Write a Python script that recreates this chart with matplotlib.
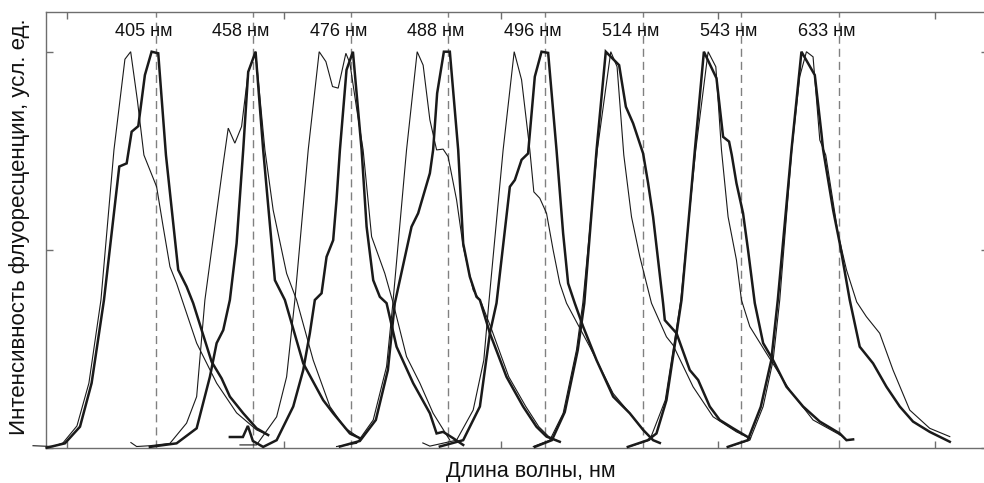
import matplotlib
matplotlib.use("Agg")
import matplotlib.pyplot as plt

plt.rcParams['font.family'] = ['Liberation Sans', 'DejaVu Sans']

# Excitation laser lines (label text and channel position)
laser_labels = ["405 нм", "458 нм", "476 нм", "488 нм", "496 нм", "514 нм", "543 нм", "633 нм"]
laser_pos = [8.23, 17.16, 26.19, 35.15, 44.09, 53.12, 62.18, 71.17]

# Emission spectra: thin line and thick line for each laser line
thin_405_x = [-3.1, -1.26, -0.34, 0.95, 2.05, 3.16, 4.36, 5.37, 5.9, 6.52, 7.12, 8.29, 8.87, 9.52, 10.13, 10.74, 11.98, 13.82, 15.66, 17.5, 18.54]
thin_405_y = [0.005, 0.003, 0.012, 0.055, 0.163, 0.373, 0.752, 0.981, 1.0, 0.877, 0.739, 0.659, 0.562, 0.457, 0.415, 0.365, 0.264, 0.163, 0.088, 0.045, 0.032]
thick_405_x = [-1.84, -0.16, 1.23, 2.3, 3.44, 4.85, 5.53, 5.99, 6.6, 7.21, 7.83, 8.44, 9.15, 10.28, 11.05, 11.66, 13.36, 14.28, 15.04, 16.27, 17.5, 18.57]
thick_405_y = [0.0, 0.011, 0.053, 0.163, 0.373, 0.71, 0.718, 0.798, 0.812, 0.941, 1.0, 0.996, 0.739, 0.449, 0.407, 0.365, 0.217, 0.175, 0.129, 0.087, 0.049, 0.032]

thin_458_x = [5.92, 6.45, 7.67, 9.52, 11.05, 11.98, 12.74, 14.43, 14.89, 15.5, 16.12, 16.73, 17.41, 18.27, 19.03, 20.27, 21.19, 22.72, 24.26, 25.64, 27.02]
thin_458_y = [0.013, 0.003, 0.005, 0.011, 0.062, 0.129, 0.373, 0.718, 0.807, 0.769, 0.811, 0.949, 1.0, 0.752, 0.6, 0.44, 0.373, 0.221, 0.104, 0.05, 0.024]
thick_458_x = [7.67, 10.13, 11.98, 13.2, 13.82, 14.43, 15.04, 15.66, 16.27, 16.73, 17.41, 18.11, 19.19, 20.11, 21.8, 23.64, 24.56, 26.1, 27.02]
thick_458_y = [0.002, 0.011, 0.049, 0.179, 0.264, 0.297, 0.373, 0.516, 0.752, 0.949, 1.0, 0.752, 0.423, 0.373, 0.213, 0.12, 0.087, 0.036, 0.024]

thin_476_x = [15.97, 17.5, 19.35, 20.27, 21.03, 22.26, 23.27, 23.89, 24.5, 25.02, 25.73, 26.1, 26.74, 27.32, 28.1, 29.32, 30.09, 31.32, 32.55, 33.77, 35.31]
thin_476_y = [0.007, 0.007, 0.078, 0.179, 0.373, 0.752, 1.0, 0.975, 0.912, 0.908, 0.996, 0.971, 0.853, 0.752, 0.533, 0.44, 0.365, 0.23, 0.163, 0.087, 0.019]
thick_476_x = [15.04, 16.24, 16.7, 17.16, 18.11, 19.35, 20.88, 21.8, 22.41, 22.87, 23.49, 23.95, 24.56, 24.87, 25.18, 25.79, 26.38, 27.18, 27.64, 28.25, 28.86, 29.48, 30.4, 31.93, 33.47, 34.09, 34.69, 35.62, 36.54]
thick_476_y = [0.027, 0.027, 0.055, 0.017, 0.002, 0.019, 0.104, 0.196, 0.289, 0.373, 0.39, 0.482, 0.524, 0.626, 0.752, 0.954, 1.0, 0.752, 0.558, 0.423, 0.381, 0.365, 0.255, 0.163, 0.087, 0.036, 0.04, 0.024, 0.007]

thin_488_x = [24.87, 26.72, 28.25, 29.48, 30.06, 31.32, 32.3, 32.85, 33.47, 34.09, 34.69, 35.15, 35.93, 36.54, 37.46, 38.23, 39.18, 40.74, 42.31, 43.51, 44.43, 45.44]
thin_488_y = [0.003, 0.011, 0.07, 0.205, 0.365, 0.752, 1.0, 0.966, 0.828, 0.752, 0.754, 0.735, 0.626, 0.508, 0.398, 0.365, 0.297, 0.179, 0.104, 0.053, 0.028, 0.015]
thick_488_x = [25.18, 27.02, 28.49, 29.6, 30.24, 31.78, 32.39, 33.47, 33.77, 34.14, 34.76, 35.31, 36.08, 36.54, 37.15, 37.77, 38.08, 39.0, 40.53, 42.06, 43.29, 44.22, 45.44]
thick_488_y = [0.003, 0.017, 0.07, 0.196, 0.365, 0.558, 0.592, 0.693, 0.752, 0.895, 1.0, 1.0, 0.752, 0.516, 0.432, 0.381, 0.373, 0.289, 0.179, 0.104, 0.053, 0.028, 0.015]

thin_496_x = [32.82, 33.47, 35.93, 37.46, 38.44, 38.9, 40.22, 41.24, 41.92, 42.68, 43.05, 43.6, 44.22, 44.83, 45.44, 46.06, 48.2, 50.36, 51.89, 53.12, 54.04]
thin_496_y = [0.012, 0.004, 0.019, 0.095, 0.221, 0.365, 0.752, 1.0, 0.929, 0.752, 0.646, 0.63, 0.592, 0.499, 0.415, 0.365, 0.255, 0.137, 0.087, 0.045, 0.019]
thick_496_x = [34.39, 36.54, 38.08, 39.0, 39.61, 40.84, 41.3, 41.92, 42.52, 43.14, 43.76, 44.37, 45.14, 45.75, 46.21, 46.82, 47.59, 48.83, 50.36, 51.89, 53.12, 54.04, 54.66]
thick_496_y = [0.003, 0.019, 0.104, 0.289, 0.365, 0.659, 0.676, 0.727, 0.743, 0.937, 1.0, 0.997, 0.752, 0.541, 0.415, 0.365, 0.306, 0.221, 0.129, 0.087, 0.045, 0.019, 0.012]

thin_514_x = [43.0, 44.52, 45.75, 46.98, 47.56, 48.9, 50.14, 50.72, 51.34, 52.05, 52.82, 53.89, 55.27, 55.88, 57.72, 59.57, 61.72, 62.64]
thin_514_y = [0.003, 0.019, 0.087, 0.247, 0.365, 0.752, 1.0, 0.962, 0.739, 0.583, 0.482, 0.365, 0.28, 0.259, 0.154, 0.078, 0.04, 0.028]
thick_514_x = [43.14, 44.71, 45.9, 47.1, 47.7, 48.83, 49.68, 50.91, 51.53, 52.2, 53.12, 53.58, 54.04, 54.5, 54.96, 55.12, 56.2, 57.42, 58.19, 59.26, 60.18, 61.41, 62.94]
thick_514_y = [0.002, 0.019, 0.09, 0.247, 0.365, 0.752, 1.0, 0.966, 0.861, 0.819, 0.743, 0.668, 0.583, 0.474, 0.365, 0.322, 0.289, 0.196, 0.171, 0.104, 0.07, 0.049, 0.024]

thin_543_x = [51.89, 53.73, 55.16, 56.13, 56.59, 57.97, 59.11, 59.82, 60.34, 60.95, 61.72, 62.18, 62.95, 64.49, 66.63, 68.78, 71.54]
thin_543_y = [0.003, 0.019, 0.12, 0.29, 0.373, 0.752, 1.0, 0.962, 0.752, 0.583, 0.474, 0.373, 0.306, 0.238, 0.145, 0.07, 0.028]
thick_543_x = [51.71, 53.55, 54.35, 55.27, 56.2, 56.66, 57.89, 58.72, 59.88, 60.49, 61.04, 61.29, 61.72, 62.33, 62.79, 63.41, 64.18, 65.1, 66.33, 67.86, 69.4, 71.24, 71.86, 72.47]
thick_543_y = [0.002, 0.019, 0.036, 0.12, 0.289, 0.373, 0.752, 1.0, 0.933, 0.785, 0.773, 0.739, 0.668, 0.592, 0.499, 0.365, 0.264, 0.221, 0.154, 0.104, 0.066, 0.036, 0.019, 0.021]

thin_633_x = [61.1, 62.95, 64.18, 65.1, 65.71, 66.82, 67.55, 68.17, 68.78, 69.4, 69.95, 71.08, 71.86, 72.8, 73.69, 74.92, 76.15, 77.69, 79.53, 81.38]
thin_633_y = [0.003, 0.019, 0.104, 0.221, 0.373, 0.752, 0.937, 1.0, 0.987, 0.777, 0.739, 0.541, 0.449, 0.368, 0.331, 0.289, 0.196, 0.095, 0.049, 0.028]
thick_633_x = [60.92, 62.76, 63.96, 64.93, 65.53, 66.79, 67.71, 68.94, 69.55, 69.71, 70.63, 71.24, 72.16, 73.08, 74.31, 75.54, 76.77, 77.99, 79.53, 81.38]
thick_633_y = [0.002, 0.019, 0.103, 0.221, 0.373, 0.752, 1.0, 0.941, 0.794, 0.752, 0.6, 0.516, 0.373, 0.255, 0.213, 0.154, 0.104, 0.066, 0.04, 0.015]

thin_curves = [(thin_405_x, thin_405_y), (thin_458_x, thin_458_y), (thin_476_x, thin_476_y),
               (thin_488_x, thin_488_y), (thin_496_x, thin_496_y), (thin_514_x, thin_514_y),
               (thin_543_x, thin_543_y), (thin_633_x, thin_633_y)]
thick_curves = [(thick_405_x, thick_405_y), (thick_458_x, thick_458_y), (thick_476_x, thick_476_y),
                (thick_488_x, thick_488_y), (thick_496_x, thick_496_y), (thick_514_x, thick_514_y),
                (thick_543_x, thick_543_y), (thick_633_x, thick_633_y)]

x_ticks = [0, 20, 40, 60, 80]
y_ticks = [0, 0.5, 1.0]

W, H = 984, 483
fig = plt.figure(figsize=(W / 100, H / 100), dpi=100)
left_px, right_px, top_px, bottom_px = 45.7, 988.0, 12.3, 447.7
ax = fig.add_axes([left_px / W, 1 - bottom_px / H,
                   (right_px - left_px) / W, (bottom_px - top_px) / H])
ax.set_xlim(-1.93, 84.9)
ax.set_ylim(0, 1.0995)

spine_color = "#6e6e6e"
for s in ax.spines.values():
    s.set_color(spine_color)
    s.set_linewidth(1.0)

# laser lines
for xp in laser_pos:
    ax.axvline(xp, color="#808080", lw=1.0, dashes=(5.8, 3.6), zorder=1)

line_color = "#1a1a1a"
for cx, cy in thin_curves:
    ax.plot(cx, cy, color=line_color, lw=0.8, zorder=3, clip_on=False,
            solid_joinstyle="miter")
for cx, cy in thick_curves:
    ax.plot(cx, cy, color=line_color, lw=1.8, zorder=4, clip_on=False,
            solid_joinstyle="miter")

for lbl, xp in zip(laser_labels, laser_pos):
    ax.text(xp - 1.15, 1.052, lbl, ha="center", va="center", fontsize=13,
            color="#111111", zorder=5)

ax.set_xticks(x_ticks)
ax.set_yticks(y_ticks)
ax.tick_params(direction="in", top=True, right=True, length=5, width=1.0,
               color=spine_color, labelbottom=False, labelleft=False)

fig.text(530.5 / W, 1 - 472 / H, "Длина волны, нм", ha="center", va="center",
         fontsize=15.5, color="#111111")
fig.text(20 / W, 1 - 227 / H, "Интенсивность флуоресценции, усл. ед.", ha="center",
         va="center", rotation=90, fontsize=16, color="#111111")

fig.savefig("out.png", dpi=100)
